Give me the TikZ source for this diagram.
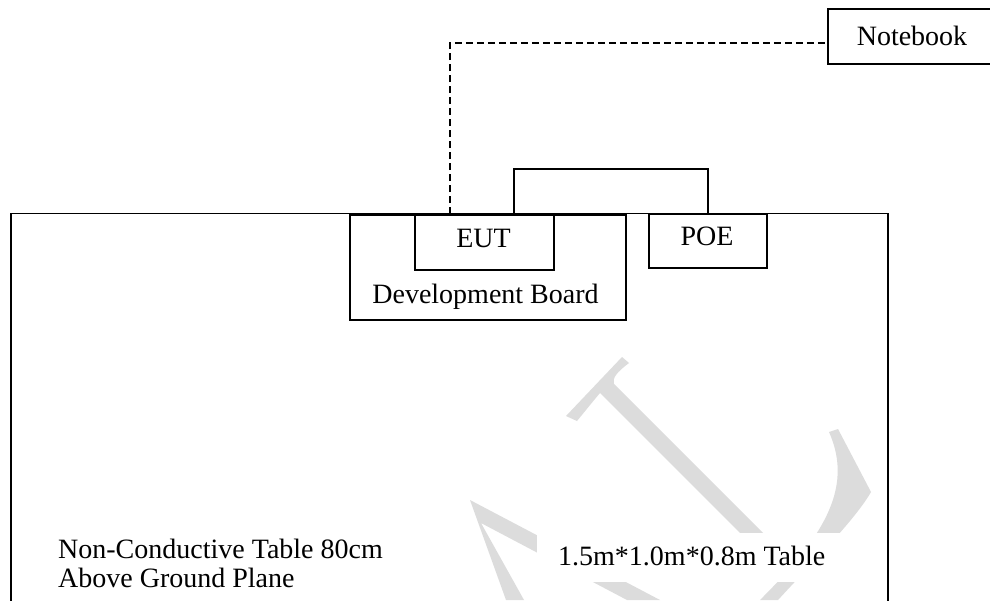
\documentclass[tikz,border=0pt]{standalone}
\usepackage{fontspec}
\setmainfont{Liberation Serif}
\begin{document}
\begin{tikzpicture}[x=1pt,y=-1pt,
  box/.style={draw,line width=1.6pt,inner sep=0pt,anchor=north west},
  lbl/.style={font=\fontsize{28}{29}\selectfont,inner sep=0pt,anchor=base},
  lblw/.style={font=\fontsize{28}{29}\selectfont,inner sep=0pt,anchor=base west},
  wire/.style={line width=1.6pt},
  dashwire/.style={line width=1.4pt,dash pattern=on 7pt off 4pt},
  wm/.style={fill={rgb,255:red,220;green,220;blue,220}}]
\clip (0,0) rectangle (990,600);
\fill[white] (0,0) rectangle (990,600);
% watermark (light grey)
\fill[wm] (622,357) -- (629,363) .. controls (617,372) and (612,378) .. (614,384)
  -- (768,538) -- (745,538) -- (600,393) .. controls (594,400) and (586,410) .. (577,421)
  -- (566,416) -- cycle;
\fill[wm] (829,432) -- (838,429) -- (871,492) .. controls (855,520) and (810,565) .. (778,600)
  -- (760,600) .. controls (820,540) and (855,490) .. (829,432) -- cycle;
\fill[wm] (470,500) -- (660,600) -- (627,600) -- (481,523) -- (524,600) -- (506,600) -- cycle;
\fill[white] (537,533) rectangle (840,582);
% boxes
\node[box, minimum width=877pt, minimum height=400pt] (table) at (10,212.5) {};
\node[box, minimum width=276pt, minimum height=105pt] (board) at (349,214) {};
\node[box, minimum width=139pt, minimum height=55pt] (eut) at (414,214) {};
\node[box, minimum width=118pt, minimum height=54pt] (poe) at (648,213) {};
\node[box, minimum width=170pt, minimum height=55pt] (nb) at (827,8) {};
% labels
\node[lbl] (eutl) at (483.5,247) {EUT};
\node[lbl] (poel) at (707,245) {POE};
\node[lbl] (boardl) at (485.5,303) {Development Board};
\node[lbl] (nbl) at (912,45) {Notebook};
\node[lblw] (tab1) at (58,558) {Non-Conductive Table 80cm};
\node[lblw] (tab2) at (58,587) {Above Ground Plane};
\node[lblw] (tab3) at (558,565) {1.5m*1.0m*0.8m Table};
% connectors
\draw[wire] ([xshift=100pt]eut.north west) -- ++(0,-45) -| (poe.north);
\draw[dashwire] ([xshift=36pt]eut.north west) |- ([yshift=-6.5pt]nb.west);
\end{tikzpicture}
\end{document}
